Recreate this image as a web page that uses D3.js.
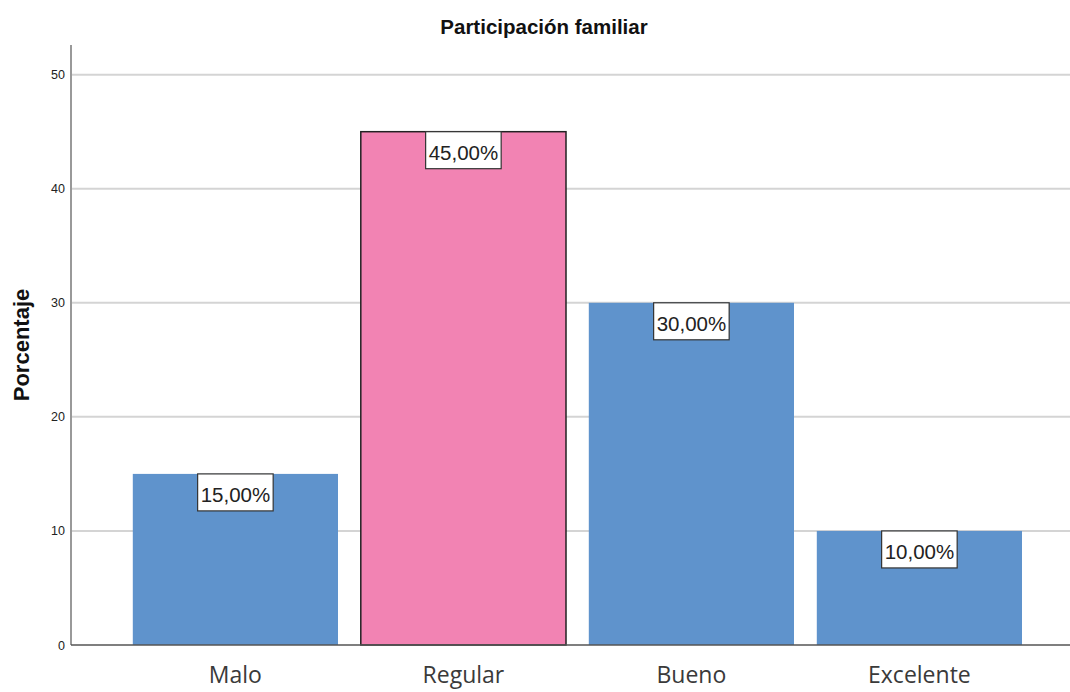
<!DOCTYPE html>
<html>
<head>
<meta charset="utf-8">
<script src="https://cdn.jsdelivr.net/npm/d3@7"></script>
<style>
  body { margin: 0; background: #fff; }
  svg { display: block; }
</style>
</head>
<body>
<div id="content"></div>
<script>
const categories = ['Malo', 'Regular', 'Bueno', 'Excelente'];
const values = [15, 45, 30, 10];
const labels = ['15,00%', '45,00%', '30,00%', '10,00%'];
const yTicks = [0, 10, 20, 30, 40, 50];
const highlight = 'Regular';

const width = 1070;
const height = 692;
const padLeft = 71;
const padRight = 1070;
const padTop = 45;
const padBottom = 645;

const svg = d3.select('#content')
    .append('svg')
    .attr('width', width)
    .attr('height', height);

const y = d3.scaleLinear()
    .domain([0, 52.6])
    .range([padBottom, padTop]);

const x = d3.scaleBand()
    .domain(categories)
    .range([110, 1044.8])
    .paddingInner(0.1)
    .paddingOuter(0.1);

// gridlines
svg.append('g')
    .selectAll('line')
    .data(yTicks.filter(d => d > 0))
    .join('line')
    .attr('x1', padLeft)
    .attr('x2', padRight)
    .attr('y1', d => y(d))
    .attr('y2', d => y(d))
    .attr('stroke', '#d4d4d4')
    .attr('stroke-width', 2);

// bars
svg.append('g')
    .selectAll('rect')
    .data(categories)
    .join('rect')
    .attr('x', d => x(d))
    .attr('y', (d, i) => y(values[i]))
    .attr('width', x.bandwidth())
    .attr('height', (d, i) => y(0) - y(values[i]))
    .attr('fill', d => d === highlight ? '#F283B3' : '#5F93CC')
    .attr('stroke', d => d === highlight ? '#222' : 'none')
    .attr('stroke-width', 1.5);

// y axis
const yAxis = svg.append('g')
    .attr('transform', `translate(${padLeft},0)`)
    .call(d3.axisLeft(y).tickValues(yTicks).tickSize(0).tickPadding(6));
yAxis.select('.domain').remove();
yAxis.selectAll('text')
    .attr('font-family', 'Liberation Sans, Arial, sans-serif')
    .attr('font-size', 12.5)
    .attr('fill', '#222');

svg.append('line')
    .attr('x1', padLeft).attr('x2', padLeft)
    .attr('y1', padTop).attr('y2', padBottom)
    .attr('stroke', '#999')
    .attr('stroke-width', 2);

// x axis
svg.append('line')
    .attr('x1', padLeft).attr('x2', padRight)
    .attr('y1', padBottom).attr('y2', padBottom)
    .attr('stroke', '#555')
    .attr('stroke-width', 1.5);

svg.append('g')
    .selectAll('text')
    .data(categories)
    .join('text')
    .attr('x', d => x(d) + x.bandwidth() / 2)
    .attr('y', 683)
    .attr('text-anchor', 'middle')
    .attr('font-family', 'Open Sans, Liberation Sans, sans-serif')
    .attr('font-size', 23)
    .attr('font-weight', 500)
    .attr('fill', '#3a3a3a')
    .text(d => d);

// value labels
const lab = svg.append('g')
    .selectAll('g')
    .data(categories)
    .join('g')
    .attr('transform', (d, i) => `translate(${x(d) + x.bandwidth() / 2},${y(values[i])})`);

lab.append('text')
    .attr('y', 28)
    .attr('text-anchor', 'middle')
    .attr('font-family', 'Liberation Sans, Arial, sans-serif')
    .attr('font-size', 20.5)
    .attr('fill', '#222')
    .text((d, i) => labels[i]);

lab.each(function() {
    const g = d3.select(this);
    const bb = g.select('text').node().getBBox();
    g.insert('rect', 'text')
        .attr('x', bb.x - 3)
        .attr('y', 0)
        .attr('width', bb.width + 6)
        .attr('height', 37)
        .attr('fill', '#fff')
        .attr('stroke', '#333')
        .attr('stroke-width', 1.2);
});

// title
svg.append('text')
    .attr('x', 544)
    .attr('y', 34)
    .attr('text-anchor', 'middle')
    .attr('font-family', 'Liberation Sans, Arial, sans-serif')
    .attr('font-size', 20.5)
    .attr('font-weight', 'bold')
    .attr('fill', '#111')
    .text('Participación familiar');

svg.append('text')
    .attr('transform', 'translate(29,345) rotate(-90)')
    .attr('text-anchor', 'middle')
    .attr('font-family', 'Liberation Sans, Arial, sans-serif')
    .attr('font-size', 22)
    .attr('font-weight', 'bold')
    .attr('fill', '#111')
    .text('Porcentaje');
</script>
</body>
</html>
